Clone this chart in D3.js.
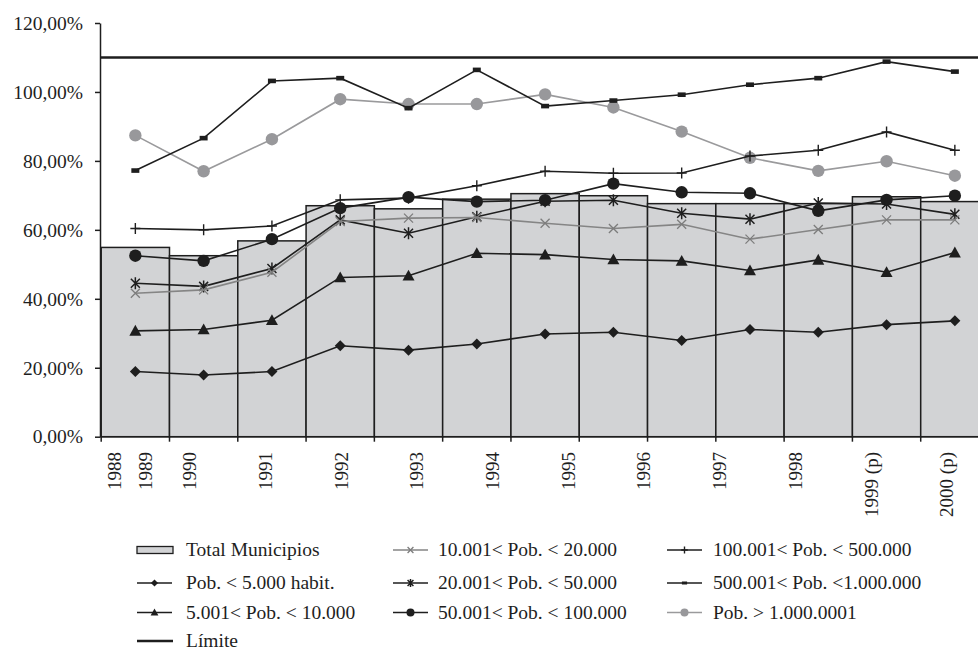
<!DOCTYPE html>
<html>
<head>
<meta charset="utf-8">
<script src="https://cdn.jsdelivr.net/npm/d3@7"></script>
<style>
  html, body { margin: 0; padding: 0; background: #fff; }
  svg { display: block; }
  svg text { font-family: "Liberation Serif", "Tinos", "Times New Roman", "DejaVu Serif", serif; }
</style>
</head>
<body>
<svg id="chart" width="978" height="650"></svg>
<script>
// Years on the category axis
const years = ["1988", "1989", "1990", "1991", "1992", "1993", "1994", "1995", "1996", "1997", "1998", "1999 (p)", "2000 (p)"];

// Bars: all municipalities (%)
const totalMunicipios = [54.9, 52.5, 56.8, 67.0, 66.1, 68.9, 70.5, 69.9, 67.6, 67.6, 67.6, 69.6, 68.2];

// Lines by population bracket (%)
const pob5000    = [18.9, 17.9, 18.9, 26.4, 25.1, 26.9, 29.8, 30.3, 27.9, 31.1, 30.3, 32.5, 33.6];
const pob10000   = [30.7, 31.1, 33.8, 46.2, 46.7, 53.2, 52.8, 51.4, 51.0, 48.2, 51.3, 47.7, 53.4];
const pob20000   = [41.6, 42.6, 47.7, 62.4, 63.4, 63.6, 61.9, 60.4, 61.6, 57.3, 60.1, 62.9, 62.9];
const pob50000   = [44.5, 43.6, 48.8, 62.9, 59.0, 63.8, 68.3, 68.6, 64.8, 63.1, 67.8, 67.5, 64.5];
const pob100000  = [52.5, 51.0, 57.3, 66.3, 69.5, 68.2, 68.6, 73.4, 70.9, 70.6, 65.5, 68.7, 69.9];
const pob500000  = [60.4, 60.0, 61.1, 68.7, 69.2, 72.8, 77.0, 76.4, 76.5, 81.4, 83.1, 88.4, 83.1];
const pob1000000 = [77.2, 86.6, 103.2, 104.0, 95.3, 106.4, 95.9, 97.5, 99.2, 102.1, 104.0, 108.8, 105.9];
const pobMayor   = [87.4, 77.0, 86.3, 97.9, 96.5, 96.5, 99.3, 95.5, 88.5, 80.9, 77.1, 79.9, 75.7];

// Reference limit (%)
const limite = 110;

// Y axis ticks
const yTicks = [0, 20, 40, 60, 80, 100, 120];

const svg = d3.select("#chart");
const W = 978;
const axisX = 100;

const x = d3.scaleBand().domain(years).range([101.2, 989]).paddingInner(0).paddingOuter(0);
const y = d3.scaleLinear().domain([0, 120]).range([436.7, 23]);
// Label positions along the category axis (labels are spread unevenly)
const xLabel = d3.scaleLinear().domain([0, 1, 2, 12]).range([115, 146, 190, 947]);

const ink = "#1e1e1e";
const barFill = "#d2d3d5";

// ---- bars
svg.append("g").selectAll("rect")
  .data(years)
  .join("rect")
  .attr("x", d => x(d))
  .attr("y", (d, i) => y(totalMunicipios[i]))
  .attr("width", x.bandwidth())
  .attr("height", (d, i) => y(0) - y(totalMunicipios[i]))
  .attr("fill", barFill)
  .attr("stroke", ink)
  .attr("stroke-width", 1.5);

// ---- marker shapes
function marker(g, type, k, color) {
  switch (type) {
    case "diamond":
      g.append("path").attr("d", `M0,${-5.5*k}L${5.5*k},0L0,${5.5*k}L${-5.5*k},0Z`).attr("fill", color);
      break;
    case "triangle":
      g.append("path").attr("d", `M0,${-6*k}L${6*k},${4.8*k}L${-6*k},${4.8*k}Z`).attr("fill", color);
      break;
    case "x":
      g.append("path").attr("d", `M${-4.5*k},${-4.5*k}L${4.5*k},${4.5*k}M${4.5*k},${-4.5*k}L${-4.5*k},${4.5*k}`)
        .attr("stroke", color).attr("stroke-width", 1.3).attr("fill", "none");
      break;
    case "asterisk":
      g.append("path").attr("d", `M${-4.5*k},${-4.5*k}L${4.5*k},${4.5*k}M${4.5*k},${-4.5*k}L${-4.5*k},${4.5*k}M0,${-6*k}L0,${6*k}`)
        .attr("stroke", color).attr("stroke-width", 1.5).attr("fill", "none");
      break;
    case "plus":
      g.append("path").attr("d", `M${-5*k},0L${5*k},0M0,${-5.5*k}L0,${5.5*k}`)
        .attr("stroke", color).attr("stroke-width", 1.4).attr("fill", "none");
      break;
    case "rect":
      g.append("rect").attr("x", -4*k).attr("y", -2.3*k).attr("width", 8*k).attr("height", 4.6*k).attr("fill", color);
      break;
    case "circle":
      g.append("circle").attr("r", 6.2*k).attr("fill", color);
      break;
  }
}

const series = [
  { name: "Pob. < 5.000 habit.",        values: pob5000,    line: ink,       mark: "diamond",  markColor: ink },
  { name: "5.001< Pob. < 10.000",       values: pob10000,   line: ink,       mark: "triangle", markColor: ink },
  { name: "10.001< Pob. < 20.000",      values: pob20000,   line: "#858585", mark: "x",        markColor: "#7d7d7d" },
  { name: "20.001< Pob. < 50.000",      values: pob50000,   line: ink,       mark: "asterisk", markColor: ink },
  { name: "50.001< Pob. < 100.000",     values: pob100000,  line: ink,       mark: "circle",   markColor: ink },
  { name: "100.001< Pob. < 500.000",    values: pob500000,  line: ink,       mark: "plus",     markColor: ink },
  { name: "500.001< Pob. <1.000.000",   values: pob1000000, line: ink,       mark: "rect",     markColor: ink },
  { name: "Pob. > 1.000.0001",          values: pobMayor,   line: "#9a9a9c", mark: "circle",   markColor: "#98989b" }
];

const cx = i => x(years[i]) + x.bandwidth() / 2;
const lineGen = d3.line().x((d, i) => cx(i)).y(d => y(d));

// draw in reverse so the lower brackets sit on top
const lineLayer = svg.append("g");
series.slice().reverse().forEach(s => {
  const g = lineLayer.append("g");
  g.append("path")
    .attr("d", lineGen(s.values))
    .attr("fill", "none")
    .attr("stroke", s.line)
    .attr("stroke-width", 1.6);
  s.values.forEach((v, i) => {
    const mg = g.append("g").attr("transform", `translate(${cx(i)},${y(v)})`);
    marker(mg, s.mark, 1, s.markColor);
  });
});

// ---- limit line
svg.append("line")
  .attr("x1", axisX).attr("x2", W)
  .attr("y1", y(limite)).attr("y2", y(limite))
  .attr("stroke", ink).attr("stroke-width", 2.6);

// ---- y axis
const yAxis = d3.axisLeft(y)
  .tickValues(yTicks)
  .tickSize(5)
  .tickSizeOuter(0)
  .tickPadding(12)
  .tickFormat(d => d.toFixed(2).replace(".", ",") + "%");
const gy = svg.append("g").attr("transform", `translate(${axisX},0)`).call(yAxis);
gy.attr("font-family", null);
gy.selectAll("path, line").attr("stroke", ink).attr("stroke-width", 1.5);
gy.selectAll("text").attr("font-size", 19.5).attr("fill", ink);

// ---- x axis
const gx = svg.append("g");
gx.append("line").attr("x1", axisX).attr("x2", W).attr("y1", y(0)).attr("y2", y(0))
  .attr("stroke", ink).attr("stroke-width", 1.5);
gx.selectAll("line.tick")
  .data(years.concat(["end"]))
  .join("line")
  .attr("class", "tick")
  .attr("x1", (d, i) => i < years.length ? x(d) : x.range()[1])
  .attr("x2", (d, i) => i < years.length ? x(d) : x.range()[1])
  .attr("y1", y(0)).attr("y2", y(0) + 5)
  .attr("stroke", ink).attr("stroke-width", 1.5);
gx.selectAll("text")
  .data(years)
  .join("text")
  .attr("transform", (d, i) => `translate(${xLabel(i)},452) rotate(-90)`)
  .attr("text-anchor", "end")
  .attr("dy", "0.33em")
  .attr("font-size", 19)
  .attr("fill", ink)
  .text(d => d);

// ---- legend
const legendCols = [
  { sx: 137, tx: 186 },
  { sx: 393, tx: 438 },
  { sx: 667, tx: 713 }
];
const legendRows = [550, 583, 612.5, 641];
const legendItems = [
  { col: 0, row: 0, kind: "bar", name: "Total Municipios" },
  { col: 0, row: 1, s: series[0] },
  { col: 0, row: 2, s: series[1] },
  { col: 0, row: 3, kind: "limit", name: "Límite" },
  { col: 1, row: 0, s: series[2] },
  { col: 1, row: 1, s: series[3] },
  { col: 1, row: 2, s: series[4] },
  { col: 2, row: 0, s: series[5] },
  { col: 2, row: 1, s: series[6] },
  { col: 2, row: 2, s: series[7] }
];
const legend = svg.append("g");
legendItems.forEach(it => {
  const c = legendCols[it.col];
  const ly = legendRows[it.row];
  const g = legend.append("g");
  let label;
  if (it.kind === "bar") {
    g.append("rect").attr("x", c.sx).attr("y", ly - 3.5).attr("width", 36).attr("height", 7)
      .attr("fill", barFill).attr("stroke", ink).attr("stroke-width", 1.3);
    label = it.name;
  } else if (it.kind === "limit") {
    g.append("line").attr("x1", c.sx).attr("x2", c.sx + 36).attr("y1", ly).attr("y2", ly)
      .attr("stroke", ink).attr("stroke-width", 2.6);
    label = it.name;
  } else {
    g.append("line").attr("x1", c.sx).attr("x2", c.sx + 35).attr("y1", ly).attr("y2", ly)
      .attr("stroke", it.s.line).attr("stroke-width", 1.5);
    const mg = g.append("g").attr("transform", `translate(${c.sx + 17.5},${ly})`);
    marker(mg, it.s.mark, 0.65, it.s.markColor);
    label = it.s.name;
  }
  g.append("text")
    .attr("x", c.tx).attr("y", ly)
    .attr("dy", "0.33em")
    .attr("font-size", 19.5)
    .attr("fill", ink)
    .text(label);
});
</script>
</body>
</html>
